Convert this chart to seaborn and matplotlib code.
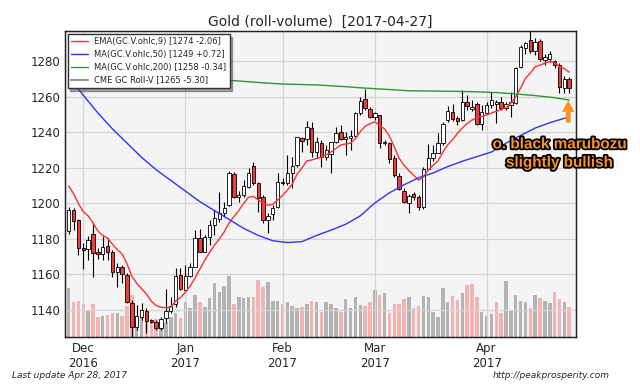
import numpy as np
import pandas as pd
import matplotlib
matplotlib.use("Agg")
import matplotlib.pyplot as plt
import matplotlib.patheffects as pe
from matplotlib.lines import Line2D
import seaborn as sns

# ---------------- data ----------------
holidays = ["2016-12-26", "2017-01-02", "2017-01-16", "2017-02-20", "2017-04-14"]
dates = pd.bdate_range("2016-11-28", "2017-04-27")
dates = dates[~dates.isin(pd.to_datetime(holidays))]

opens = [1184.5, 1196.3, 1190.7, 1175.1, 1174.4, 1182.6, 1172.9, 1171.5, 1176.2, 1172.5,
         1161.2, 1164.0, 1159.7, 1143.8, 1130.6, 1135.9, 1139.6, 1134.2, 1133.4, 1129.7,
         1135.3, 1139.4, 1143.2, 1159.5, 1151.3, 1159.2, 1164.4, 1180.8, 1172.9, 1180.9,
         1187.9, 1191.1, 1194.5, 1199.2, 1216.6, 1203.5, 1204.8, 1209.5, 1221.1, 1211.4,
         1203.8, 1190.7, 1194.1, 1198.2, 1212.3, 1211.4, 1217.0, 1221.7, 1236.7, 1236.3,
         1242.3, 1229.2, 1233.9, 1226.0, 1227.9, 1234.8, 1240.5, 1236.3, 1236.7, 1238.0,
         1250.8, 1258.7, 1253.0, 1248.5, 1249.9, 1234.3, 1233.9, 1225.4, 1215.5, 1207.2,
         1200.5, 1205.4, 1203.5, 1198.2, 1219.2, 1225.4, 1228.6, 1233.9, 1247.0, 1251.4,
         1248.4, 1247.0, 1257.4, 1253.0, 1256.0, 1244.8, 1251.2, 1255.5, 1256.0, 1257.4,
         1253.6, 1255.5, 1256.4, 1277.1, 1287.4, 1292.1, 1286.1, 1291.5, 1280.6, 1281.5,
         1280.0, 1278.0, 1264.9, 1270.0]
highs = [1198.0, 1197.5, 1191.5, 1178.0, 1181.5, 1189.8, 1175.0, 1181.7, 1180.4, 1173.8,
         1166.3, 1165.4, 1160.7, 1145.6, 1142.8, 1143.8, 1140.9, 1135.0, 1134.4, 1136.2,
         1151.6, 1147.5, 1163.5, 1163.5, 1165.4, 1166.3, 1185.1, 1185.4, 1182.3, 1190.7,
         1196.3, 1206.7, 1201.0, 1218.5, 1217.9, 1207.0, 1213.2, 1219.8, 1223.2, 1212.3,
         1204.8, 1194.5, 1199.0, 1217.0, 1214.2, 1227.3, 1226.4, 1237.7, 1237.7, 1246.5,
         1246.1, 1237.7, 1235.8, 1233.0, 1234.8, 1243.3, 1244.2, 1240.0, 1241.4, 1251.7,
         1260.2, 1264.3, 1254.6, 1251.7, 1249.9, 1235.8, 1234.8, 1227.3, 1217.4, 1208.5,
         1205.5, 1206.7, 1204.5, 1220.8, 1233.5, 1233.0, 1239.5, 1246.1, 1254.9, 1256.0,
         1249.3, 1264.0, 1261.1, 1258.3, 1257.4, 1255.5, 1257.4, 1263.0, 1258.3, 1260.2,
         1257.4, 1263.0, 1277.1, 1289.3, 1291.0, 1297.7, 1293.1, 1292.5, 1284.0, 1286.0,
         1281.0, 1279.0, 1272.0, 1271.5]
lows = [1183.0, 1185.0, 1171.0, 1163.0, 1168.2, 1158.8, 1168.5, 1168.2, 1168.2, 1158.8,
        1153.1, 1155.0, 1143.8, 1125.0, 1128.7, 1134.4, 1126.9, 1132.5, 1128.7, 1128.7,
        1132.5, 1138.1, 1141.9, 1151.3, 1151.3, 1158.8, 1164.0, 1172.9, 1172.9, 1176.6,
        1182.3, 1189.8, 1192.6, 1198.6, 1202.9, 1201.0, 1203.8, 1208.5, 1210.4, 1195.4,
        1188.8, 1183.2, 1190.7, 1197.3, 1210.4, 1210.4, 1208.5, 1220.8, 1229.2, 1233.0,
        1226.4, 1225.4, 1220.4, 1224.5, 1217.0, 1233.9, 1235.8, 1227.3, 1230.1, 1237.3,
        1249.9, 1252.7, 1248.0, 1247.0, 1231.1, 1233.0, 1223.0, 1215.1, 1207.6, 1200.0,
        1194.8, 1202.0, 1196.3, 1196.7, 1218.9, 1224.1, 1228.3, 1233.0, 1246.1, 1246.7,
        1244.2, 1246.7, 1252.7, 1252.1, 1244.2, 1241.4, 1250.8, 1253.6, 1245.5, 1252.7,
        1252.7, 1248.5, 1256.0, 1276.2, 1284.0, 1284.5, 1283.7, 1280.0, 1278.0, 1279.5,
        1276.5, 1262.0, 1262.0, 1262.5]
closes = [1196.3, 1190.1, 1174.7, 1173.8, 1179.4, 1171.9, 1171.5, 1175.7, 1172.5, 1161.2,
          1164.0, 1160.1, 1144.3, 1130.2, 1136.8, 1140.0, 1134.0, 1133.1, 1129.7, 1134.9,
          1139.4, 1142.3, 1159.2, 1152.0, 1159.2, 1164.0, 1180.8, 1172.9, 1180.9, 1187.7,
          1191.6, 1194.5, 1197.3, 1217.0, 1203.5, 1204.8, 1209.9, 1217.4, 1211.4, 1203.3,
          1190.7, 1193.1, 1197.7, 1212.3, 1211.4, 1217.0, 1221.1, 1237.3, 1235.4, 1242.9,
          1229.2, 1234.8, 1226.0, 1230.1, 1234.8, 1239.9, 1236.2, 1237.7, 1238.0, 1251.2,
          1257.7, 1253.6, 1248.5, 1250.8, 1234.3, 1234.8, 1224.9, 1216.0, 1208.0, 1201.0,
          1204.2, 1203.8, 1198.2, 1219.2, 1225.4, 1228.6, 1233.9, 1244.8, 1252.1, 1247.6,
          1246.5, 1257.4, 1254.9, 1254.5, 1244.8, 1251.7, 1255.5, 1258.3, 1257.4, 1253.6,
          1256.0, 1257.4, 1276.2, 1288.4, 1290.2, 1286.1, 1291.2, 1281.2, 1282.7, 1284.0,
          1278.0, 1265.8, 1270.3, 1265.0]
volume = [245, 178, 183, 167, 132, 165, 103, 108, 112, 120,
          122, 108, 158, 212, 107, 132, 108, 87, 93, 87,
          70, 103, 120, 95, 177, 145, 212, 178, 153, 198,
          273, 228, 255, 305, 167, 203, 198, 203, 203, 287,
          253, 278, 183, 183, 166, 175, 155, 145, 150, 165,
          183, 175, 128, 177, 167, 147, 127, 190, 148, 200,
          164, 155, 177, 237, 212, 220, 120, 167, 165, 190,
          200, 145, 155, 207, 202, 128, 100, 245, 175, 207,
          188, 220, 262, 265, 202, 127, 105, 118, 177, 120,
          283, 132, 212, 183, 178, 145, 212, 195, 183, 170,
          228, 190, 178, 153]
ema9 = [1209.9, 1205.5, 1200.0, 1195.4, 1193.0, 1189.0, 1184.5, 1182.0, 1180.5, 1177.0,
        1174.0, 1171.5, 1166.0, 1159.0, 1155.0, 1152.0, 1149.0, 1145.0, 1142.5, 1141.5,
        1141.3, 1141.5, 1145.0, 1147.0, 1150.0, 1153.5, 1158.0, 1163.0, 1168.0, 1172.5,
        1176.5, 1180.0, 1184.0, 1189.0, 1192.6, 1196.0, 1200.0, 1203.5, 1204.0, 1202.0,
        1200.0, 1199.0, 1199.5, 1202.0, 1204.5, 1207.5, 1211.0, 1216.5, 1220.0, 1224.0,
        1224.5, 1225.4, 1226.0, 1227.5, 1229.0, 1231.0, 1233.0, 1233.5, 1234.0, 1236.5,
        1240.5, 1243.5, 1245.0, 1246.0, 1244.0, 1242.0, 1238.0, 1232.0, 1225.5, 1221.5,
        1218.5, 1216.0, 1213.2, 1215.0, 1218.9, 1221.5, 1224.0, 1229.0, 1233.0, 1236.0,
        1239.5, 1242.5, 1245.0, 1247.0, 1248.5, 1249.0, 1249.9, 1251.0, 1252.0, 1253.0,
        1254.0, 1256.5, 1260.0, 1265.0, 1270.5, 1273.5, 1277.0, 1278.0, 1279.0, 1280.0,
        1279.5, 1277.0, 1276.0, 1274.0]
ma50_idx = [0, 3, 6, 9, 12, 15, 18, 21, 24, 27, 30, 33, 36, 39, 42, 45, 48, 51, 54, 57,
            60, 63, 66, 69, 72, 75, 78, 81, 84, 87, 90, 93, 96, 99, 102, 103]
ma50_val = [1271, 1261, 1251, 1242, 1234, 1226, 1219, 1213, 1207, 1201, 1196, 1191, 1186,
            1182, 1179, 1178, 1178.5, 1182, 1185, 1188.3, 1193, 1200.3, 1206, 1210.5, 1214.5,
            1217.2, 1220.8, 1223.8, 1226.4, 1229, 1234, 1238.3, 1242.5, 1245.5, 1248, 1248.5]
ma200_idx = [0, 10, 20, 30, 34, 40, 44, 51, 57, 61, 66, 70, 76, 83, 88, 92, 96, 100, 103]
ma200_val = [1274, 1272.5, 1271, 1269.8, 1269.2, 1268, 1267.3, 1266.8, 1265.8, 1265,
             1264.2, 1263.5, 1263.3, 1263, 1262.5, 1261.7, 1260.8, 1259.6, 1258.3]

legend_labels = ["EMA(GC.V.ohlc,9) [1274 -2.06]", "MA(GC.V.ohlc,50) [1249 +0.72]",
                 "MA(GC.V.ohlc,200) [1258 -0.34]", "CME GC Roll-V [1265 -5.30]"]
yticks = [1140, 1160, 1180, 1200, 1220, 1240, 1260, 1280]

# ---------------- style ----------------
sns.set_style("white")
plt.rcParams["font.family"] = ["DejaVu Sans"]

fig = plt.figure(figsize=(6.4, 3.84), dpi=100)
ax_v = fig.add_axes([0.1016, 0.1216, 0.7984, 0.7964])
ax = fig.add_axes([0.1016, 0.1216, 0.7984, 0.7964], sharex=ax_v)
ax_v.set_facecolor("#f4f4f4")
ax.patch.set_visible(False)

n = len(closes)
x = np.arange(n)
o = np.array(opens); c = np.array(closes); h = np.array(highs); l = np.array(lows)
v = np.array(volume)

# volume bars (pink when the close is lower than the previous close)
prev = np.concatenate([[c[0] - 1], c[:-1]])
vcol = np.where(c >= prev, "#b3b3b3", "#f3b3b3")
ax_v.bar(x, v, width=0.72, color=vcol, linewidth=0, zorder=2)
ax_v.set_ylim(0, 1529)
ax_v.set_yticks([])
ax_v.grid(False)

# candles
up = c >= o
ax.vlines(x, l, h, color="black", lw=0.8, zorder=3)
body_b = np.minimum(o, c)
body_h = np.maximum(np.abs(c - o), 0.5)
ax.bar(x, body_h, bottom=body_b, width=0.7,
       color=np.where(up, "white", "#f03c3c"), edgecolor="black", linewidth=0.6, zorder=4)

# indicator lines
sns.lineplot(x=x, y=ema9, ax=ax, color="#ff3030", lw=1.0, zorder=5, legend=False)
sns.lineplot(x=ma50_idx, y=ma50_val, ax=ax, color="#3333ff", lw=1.0, zorder=5, legend=False)
sns.lineplot(x=ma200_idx, y=ma200_val, ax=ax, color="#2e962e", lw=1.0, zorder=5, legend=False)

ax.set_ylim(1124.6, 1296.9)
ax.set_xlim(-0.76, 104.4)
ax.set_yticks(yticks)
ax.grid(True, color="#d4d4d4", lw=0.9)
ax.set_axisbelow(True)

# month ticks at the first trading day of each month
month_first = []
labels = []
for i, d in enumerate(dates):
    if i > 0 and d.month != dates[i - 1].month:
        month_first.append(i)
        labels.append(d.strftime("%b\n%Y"))
ax.set_xticks(month_first)
ax.set_xticklabels(labels)
ax.tick_params(axis="both", direction="in", labelsize=8.5, length=4, color="#333333")
ax_v.tick_params(axis="both", which="both", length=0, labelbottom=False)
ax.set_xlabel(""); ax.set_ylabel("")
for sp in ax.spines.values():
    sp.set_color("#222222"); sp.set_linewidth(1.0)

ax.set_title("Gold (roll-volume)  [2017-04-27]", fontsize=10, pad=4)

handles = [Line2D([], [], color="#ff3030", lw=1), Line2D([], [], color="#3333ff", lw=1),
           Line2D([], [], color="#2e962e", lw=1), Line2D([], [], color="#999999", lw=1.5)]
leg = ax.legend(handles, legend_labels, loc="upper left", fontsize=6.0, frameon=True,
                fancybox=False, shadow=True, framealpha=1, edgecolor="#333333",
                borderaxespad=0.3, handlelength=2.0, labelspacing=0.45)
leg.set_zorder(10)

# annotation
fig.text(0.875, 0.600, "o. black marubozu\nslightly bullish", ha="center", va="center",
         fontsize=11, fontweight="bold", color="#f7931e", linespacing=1.4,
         family=["Liberation Sans", "DejaVu Sans"],
         path_effects=[pe.withStroke(linewidth=2.6, foreground="black")])
ax.annotate("", xy=(102.8, 1259.5), xytext=(102.8, 1244),
            arrowprops=dict(arrowstyle="simple,head_width=0.9,head_length=0.8,tail_width=0.35",
                            color="#f7931e", lw=0), zorder=8)

fig.text(0.019, 0.023, "Last update Apr 28, 2017", fontsize=6.5, style="italic", va="center")
fig.text(0.952, 0.023, "http://peakprosperity.com", fontsize=6.5, style="italic",
         va="center", ha="right")

fig.savefig("out.png", dpi=100)
